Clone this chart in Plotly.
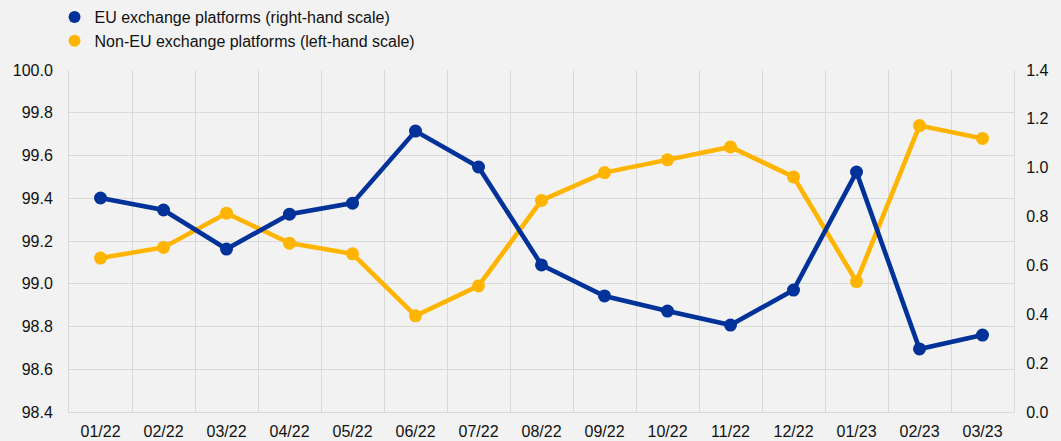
import plotly.graph_objects as go

months = ["01/22", "02/22", "03/22", "04/22", "05/22", "06/22", "07/22", "08/22",
          "09/22", "10/22", "11/22", "12/22", "01/23", "02/23", "03/23"]
eu_right = [0.876, 0.827, 0.667, 0.81, 0.855, 1.150, 1.003, 0.602,
            0.475, 0.413, 0.356, 0.499, 0.982, 0.258, 0.315]
non_eu_left = [99.12, 99.17, 99.33, 99.19, 99.14, 98.85, 98.99, 99.39,
               99.52, 99.58, 99.64, 99.50, 99.01, 99.74, 99.68]
eu_name = "EU exchange platforms (right-hand scale)"
non_eu_name = "Non-EU exchange platforms (left-hand scale)"

BLUE = "#003299"
YELLOW = "#FFB400"
BG = "#F2F2F2"
GRID = "#D9D9D9"

fig = go.Figure()
fig.add_trace(go.Scatter(
    x=months, y=eu_right, name=eu_name, showlegend=False,
    mode="lines+markers", yaxis="y2",
    line=dict(color=BLUE, width=4.6), marker=dict(color=BLUE, size=13)))
fig.add_trace(go.Scatter(
    x=months, y=non_eu_left, name=non_eu_name, showlegend=False,
    mode="lines+markers", yaxis="y",
    line=dict(color=YELLOW, width=4.6), marker=dict(color=YELLOW, size=13)))
# legend-only entries (circle symbols, no line)
fig.add_trace(go.Scatter(x=[None], y=[None], name=eu_name, mode="markers",
                         marker=dict(color=BLUE, size=13)))
fig.add_trace(go.Scatter(x=[None], y=[None], name=non_eu_name, mode="markers",
                         marker=dict(color=YELLOW, size=13)))

fig.update_layout(
    width=1061, height=441,
    paper_bgcolor=BG, plot_bgcolor=BG,
    margin=dict(l=68.5, r=46.5, t=70, b=29, autoexpand=False),
    font=dict(family="Liberation Sans, Arial, sans-serif", size=16, color="#111111"),
    showlegend=True,
    legend=dict(x=0.0514, y=1.0, xref="container", yref="container",
                xanchor="left", yanchor="top",
                bgcolor="rgba(0,0,0,0)", font=dict(size=16), itemsizing="constant",
                tracegroupgap=0, traceorder="normal"),
    xaxis=dict(type="category", range=[-0.5, 14.5], tickson="boundaries",
               showgrid=True, gridcolor=GRID, automargin=False,
               gridwidth=1, showline=True, linecolor=GRID, ticks="", ticklen=0,
               zeroline=False, ticklabelstandoff=5),
    yaxis=dict(range=[98.4, 100.0], dtick=0.2, tickformat=".1f", showgrid=True,
               gridcolor=GRID, gridwidth=1, zeroline=False, showline=True,
               automargin=False, linecolor=GRID, ticks="", ticklabelstandoff=12),
    yaxis2=dict(range=[0, 1.4], dtick=0.2, tickformat=".1f", overlaying="y",
                side="right", showgrid=False, zeroline=False, showline=True,
                automargin=False, linecolor=GRID, ticks="", ticklabelstandoff=8),
)

fig.write_html(
    "out.html",
    config={"displayModeBar": False},
    post_script="document.body.style.margin='0';document.body.style.background='%s';" % BG,
)
